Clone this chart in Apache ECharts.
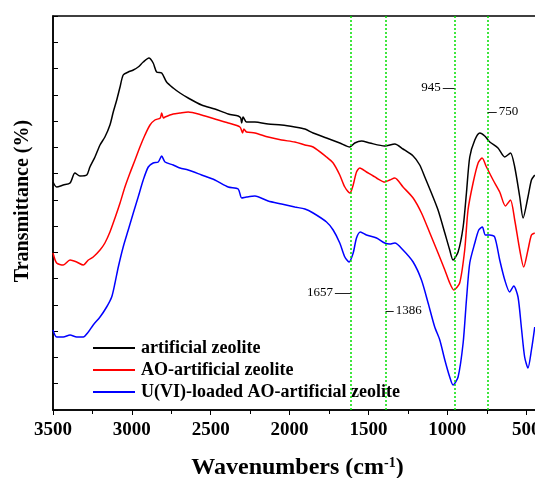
<!DOCTYPE html>
<html><head><meta charset="utf-8">
<script src="https://cdn.jsdelivr.net/npm/echarts@6/dist/echarts.min.js"></script>
<style>html,body{margin:0;padding:0;background:#fff}#c{width:535px;height:478px}</style>
</head><body><div id="c"></div>
<script>
const seriesNames = ['artificial zeolite', 'AO-artificial zeolite', 'U(VI)-loaded AO-artificial zeolite'];

const blackWn = [3500,3477,3435,3392,3361,3329,3286,3266,3234,3202,3171,3139,3118,3096,3075,3055,3023,2991,2960,2928,2892,2865,2843,2811,2780,2738,2695,2643,2558,2474,2389,2326,2310,2304,2295,2273,2220,2136,2051,1967,1903,1851,1766,1682,1618,1587,1544,1492,1397,1333,1281,1217,1175,1143,1101,1059,1016,985,964,932,900,879,858,826,794,763,731,679,636,600,573,541,520,489,467,446];
const blackT  = [228,223,225,227,237,234,235,243,253,265,273,285,298,310,323,335,338,340,343,348,352,347,338,337,328,322,317,312,305,301,296,294,292,287,293,288,288,286,285,283,281,277,272,267,263,267,269,267,264,266,261,254,245,233,217,200,177,160,150,158,183,217,253,270,277,274,268,262,253,257,243,213,192,213,230,235];

const redWn = [3500,3477,3435,3392,3350,3308,3276,3245,3202,3171,3139,3107,3075,3044,3012,2980,2949,2917,2885,2854,2820,2811,2800,2790,2738,2695,2643,2558,2474,2389,2315,2298,2290,2273,2220,2136,2051,1967,1903,1851,1766,1724,1682,1650,1618,1597,1576,1555,1513,1449,1397,1365,1333,1281,1217,1164,1111,1059,1016,985,959,922,890,869,837,805,780,752,710,668,632,600,573,541,516,489,467,446];
const redT  = [157,147,145,150,148,145,150,153,160,167,178,192,207,223,237,250,263,275,285,290,292,297,292,293,296,297,298,295,291,287,283,277,281,278,277,273,270,268,265,263,253,247,235,223,217,225,238,242,238,232,228,230,232,223,212,197,177,157,140,127,120,127,160,200,227,247,252,243,230,218,204,210,190,160,143,160,175,177];

const blueWn = [3500,3477,3435,3392,3350,3308,3276,3245,3202,3160,3128,3107,3086,3055,3023,2991,2960,2928,2896,2865,2833,2811,2790,2738,2695,2643,2558,2474,2389,2326,2304,2273,2220,2136,2051,1967,1903,1851,1766,1724,1682,1650,1623,1597,1576,1551,1513,1449,1397,1365,1333,1281,1217,1164,1122,1080,1048,1016,985,964,932,900,879,858,826,801,778,759,731,700,668,636,605,579,552,531,510,489,467,446];
const blueT  = [80,73,73,75,73,73,78,85,93,103,113,127,143,163,180,197,213,230,243,247,248,254,248,245,242,240,235,230,223,221,212,213,214,209,206,203,201,197,188,180,167,153,148,157,172,178,175,172,167,166,167,160,148,130,107,83,70,50,33,25,33,67,110,147,167,180,183,175,175,173,150,130,118,124,113,83,53,42,60,83];

const guideWn = [1613, 1392, 954, 746];
const annoText = ['945', '750', '1657', '1386'];

const SERIF = '"Times New Roman","Liberation Serif",serif';
const zip = (a, b) => a.map((v, i) => [v, b[i]]);

const annoLine = (text, w1, w2, y, pos) => [
  {coord: [w1, y], label: {show: true, position: pos, formatter: text, fontFamily: SERIF, fontSize: 13, color: '#000', distance: 2}},
  {coord: [w2, y]}
];

const chart = echarts.init(document.getElementById('c'), null, {renderer: 'canvas'});
chart.setOption({
  animation: false,
  backgroundColor: '#fff',
  grid: {left: 53, top: 16, width: 489, height: 394, show: true, borderColor: '#000', borderWidth: 1.5,
    containLabel: false, outerBoundsMode: 'none'},
  legend: {
    left: 88, top: 334, orient: 'vertical', itemWidth: 42, itemHeight: 2, itemGap: 4, icon: 'rect',
    textStyle: {fontFamily: SERIF, fontWeight: 'bold', fontSize: 18, color: '#000', padding: [0, 0, 0, 1]},
    data: seriesNames
  },
  xAxis: {
    type: 'value', min: 400, max: 3500, inverse: true,
    splitLine: {show: false},
    axisLine: {lineStyle: {color: '#000', width: 1.5}},
    axisTick: {inside: false, length: 5, lineStyle: {color: '#000', width: 1}},
    minorTick: {show: true, splitNumber: 2, length: 4, lineStyle: {color: '#000', width: 1}},
    minorSplitLine: {show: false},
    axisLabel: {formatter: v => (v % 500 === 0 ? String(v) : ''), fontFamily: SERIF, fontWeight: 'bold', fontSize: 19, color: '#000', margin: 11, showMinLabel: true, showMaxLabel: true, hideOverlap: false},
    name: 'Wavenumbers (cm{sup|-1})', nameLocation: 'middle', nameGap: 46,
    nameTextStyle: {fontFamily: SERIF, fontWeight: 'bold', fontSize: 24, color: '#000',
      rich: {sup: {fontFamily: SERIF, fontWeight: 'bold', fontSize: 14, color: '#000', verticalAlign: 'top'}}}
  },
  yAxis: {
    type: 'value', min: 0, max: 394, interval: 394 / 15,
    axisLabel: {show: false}, splitLine: {show: false},
    axisLine: {show: true, lineStyle: {color: '#000', width: 1.5}},
    axisTick: {show: true, inside: true, length: 5, lineStyle: {color: '#000'}},
    name: 'Transmittance (%)', nameLocation: 'middle', nameGap: 20, nameRotate: 90,
    nameTextStyle: {fontFamily: SERIF, fontWeight: 'bold', fontSize: 20, color: '#000', padding: [0, 0, 0, 24]}
  },
  series: [
    {name: seriesNames[0], type: 'line', symbol: 'none', smooth: 0.25, data: zip(blackWn, blackT), lineStyle: {color: '#000', width: 1.5}, itemStyle: {color: '#000'},
      markLine: {
        silent: true, symbol: 'none', animation: false,
        label: {show: false},
        lineStyle: {color: '#00e000', type: [2, 2], width: 1.5, opacity: 1},
        data: guideWn.map(w => ({xAxis: w}))
      }
    },
    {name: seriesNames[1], type: 'line', symbol: 'none', smooth: 0.25, data: zip(redWn, redT), lineStyle: {color: '#ff0000', width: 1.5}, itemStyle: {color: '#ff0000'}},
    {name: seriesNames[2], type: 'line', symbol: 'none', smooth: 0.25, data: zip(blueWn, blueT), lineStyle: {color: '#0000ff', width: 1.5}, itemStyle: {color: '#0000ff'},
      markLine: {
        silent: true, symbol: 'none', animation: false,
        label: {show: false},
        lineStyle: {color: '#222', type: 'solid', width: 1, opacity: 1},
        data: [
          annoLine(annoText[0], 1029, 954, 322, 'start'),
          annoLine(annoText[1], 744, 687, 298, 'end'),
          annoLine(annoText[2], 1713, 1612, 117, 'start'),
          annoLine(annoText[3], 1392, 1340, 99, 'end')
        ]
      }
    }
  ]
});
</script></body></html>
